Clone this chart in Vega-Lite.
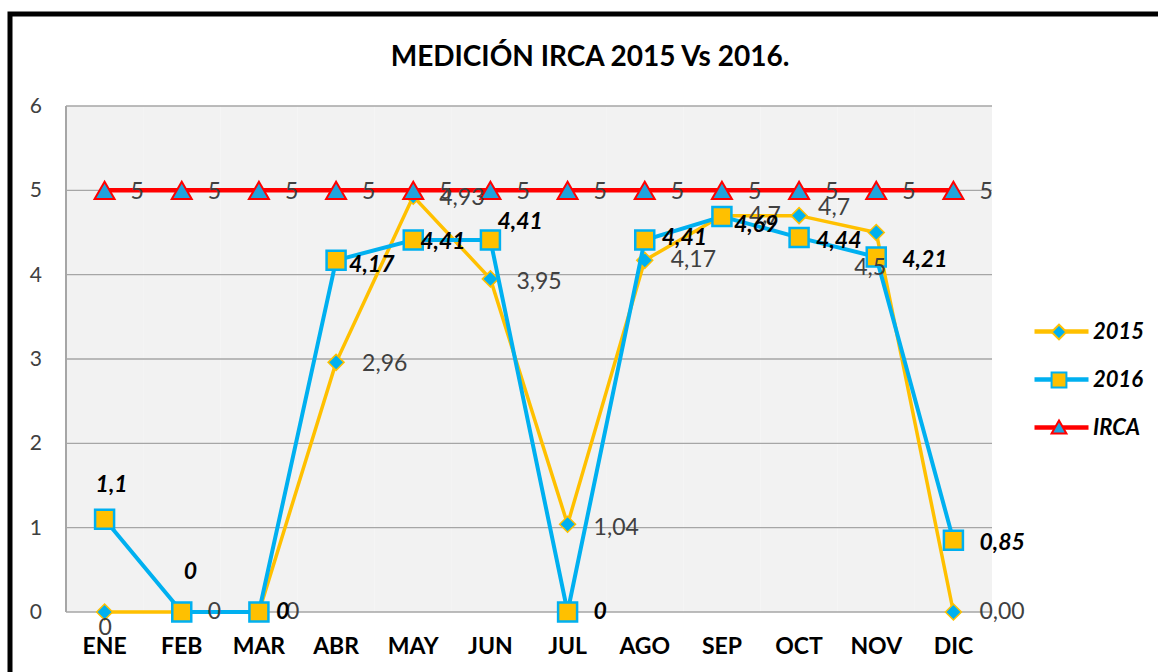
{
  "$schema": "https://vega.github.io/schema/vega-lite/v6.json",
  "width": 1160,
  "height": 672,
  "autosize": {"type": "none"},
  "padding": {"left": 10, "top": 14, "right": -12, "bottom": -14},
  "background": "white",
  "config": {
    "view": {"stroke": "black", "strokeWidth": 5, "fill": "white"},
    "font": "Lato",
    "locale": {"number": {"decimal": ",", "thousands": ".", "grouping": [3], "currency": ["$", ""]}}
  },
  "title": {"text": "MEDICIÓN IRCA 2015 Vs 2016.", "fontSize": 28, "font": "Lato", "fontWeight": "bold", "color": "black", "anchor": "middle", "baseline": "alphabetic", "offset": -80},
  "data": {"values": [
    {"mes": "ENE", "serie": "2015", "valor": 0},
    {"mes": "FEB", "serie": "2015", "valor": 0},
    {"mes": "MAR", "serie": "2015", "valor": 0},
    {"mes": "ABR", "serie": "2015", "valor": 2.96},
    {"mes": "MAY", "serie": "2015", "valor": 4.93},
    {"mes": "JUN", "serie": "2015", "valor": 3.95},
    {"mes": "JUL", "serie": "2015", "valor": 1.04},
    {"mes": "AGO", "serie": "2015", "valor": 4.17},
    {"mes": "SEP", "serie": "2015", "valor": 4.7},
    {"mes": "OCT", "serie": "2015", "valor": 4.7},
    {"mes": "NOV", "serie": "2015", "valor": 4.5},
    {"mes": "DIC", "serie": "2015", "valor": 0},
    {"mes": "ENE", "serie": "2016", "valor": 1.1},
    {"mes": "FEB", "serie": "2016", "valor": 0},
    {"mes": "MAR", "serie": "2016", "valor": 0},
    {"mes": "ABR", "serie": "2016", "valor": 4.17},
    {"mes": "MAY", "serie": "2016", "valor": 4.41},
    {"mes": "JUN", "serie": "2016", "valor": 4.41},
    {"mes": "JUL", "serie": "2016", "valor": 0},
    {"mes": "AGO", "serie": "2016", "valor": 4.41},
    {"mes": "SEP", "serie": "2016", "valor": 4.69},
    {"mes": "OCT", "serie": "2016", "valor": 4.44},
    {"mes": "NOV", "serie": "2016", "valor": 4.21},
    {"mes": "DIC", "serie": "2016", "valor": 0.85},
    {"mes": "ENE", "serie": "IRCA", "valor": 5},
    {"mes": "FEB", "serie": "IRCA", "valor": 5},
    {"mes": "MAR", "serie": "IRCA", "valor": 5},
    {"mes": "ABR", "serie": "IRCA", "valor": 5},
    {"mes": "MAY", "serie": "IRCA", "valor": 5},
    {"mes": "JUN", "serie": "IRCA", "valor": 5},
    {"mes": "JUL", "serie": "IRCA", "valor": 5},
    {"mes": "AGO", "serie": "IRCA", "valor": 5},
    {"mes": "SEP", "serie": "IRCA", "valor": 5},
    {"mes": "OCT", "serie": "IRCA", "valor": 5},
    {"mes": "NOV", "serie": "IRCA", "valor": 5},
    {"mes": "DIC", "serie": "IRCA", "valor": 5}
  ]},
  "layer": [
    {
      "transform": [{"filter": "datum.serie === 'IRCA'"}],
      "mark": {"type": "rect", "fill": "#F2F2F2"},
      "encoding": {
        "x": {"field": "mes", "type": "nominal",
          "scale": {"type": "band", "domain": ["ENE","FEB","MAR","ABR","MAY","JUN","JUL","AGO","SEP","OCT","NOV","DIC"], "range": [56, 982], "paddingInner": 0, "paddingOuter": 0},
          "axis": null},
        "y": {"datum": 0, "type": "quantitative", "scale": {"domain": [0, 6], "range": [598, 92], "nice": false, "zero": false}, "axis": null},
        "y2": {"datum": 6}
      }
    },
    {
      "data": {"values": [{"t": 0}, {"t": 1}, {"t": 2}, {"t": 3}, {"t": 4}, {"t": 5}, {"t": 6}]},
      "mark": {"type": "rule", "color": "#A6A6A6", "strokeWidth": 1.3},
      "encoding": {
        "y": {"field": "t", "type": "quantitative", "axis": null},
        "x": {"datum": "ENE", "bandPosition": 0, "axis": null},
        "x2": {"datum": "DIC", "bandPosition": 1}
      }
    },
    {
      "data": {"values": [{"t": 0}, {"t": 1}, {"t": 2}, {"t": 3}, {"t": 4}, {"t": 5}, {"t": 6}]},
      "mark": {"type": "text", "align": "right", "baseline": "middle", "font": "Lato", "fontSize": 21, "color": "#404040", "dx": -24, "dy": 1},
      "encoding": {
        "y": {"field": "t", "type": "quantitative", "axis": null},
        "x": {"datum": "ENE", "bandPosition": 0, "axis": null},
        "text": {"field": "t", "type": "quantitative", "format": "d"}
      }
    },
    {
      "mark": {"type": "rule", "color": "#A6A6A6", "strokeWidth": 1.3},
      "encoding": {
        "x": {"datum": "ENE", "bandPosition": 0, "axis": null},
        "y": {"datum": 0, "type": "quantitative", "axis": null},
        "y2": {"datum": 6}
      }
    },
    {
      "transform": [{"filter": "datum.serie === 'IRCA'"}],
      "mark": {"type": "text", "align": "center", "baseline": "middle", "font": "Lato", "fontSize": 23, "fontWeight": "bold", "color": "black", "dy": 35},
      "encoding": {
        "x": {"field": "mes", "type": "nominal", "axis": null},
        "y": {"datum": 0, "type": "quantitative", "axis": null},
        "text": {"field": "mes", "type": "nominal"}
      }
    },
    {
      "transform": [{"filter": "datum.serie === '2015'"}],
      "mark": {"type": "line", "strokeWidth": 3.5},
      "encoding": {
        "x": {"field": "mes", "type": "nominal", "axis": null},
        "y": {"field": "valor", "type": "quantitative", "axis": null},
        "color": {"field": "serie", "type": "nominal", "scale": {"range": ["#FFC000", "#00B0F0", "#FF0000"]},
          "legend": {"orient": "none", "legendX": 1022, "legendY": 288, "title": null, "symbolType": "stroke", "symbolSize": 2916, "symbolStrokeWidth": 4.5, "labelFont": "Lato", "labelFontSize": 22, "labelFontWeight": "bold", "labelFontStyle": "italic", "labelColor": "black", "labelOffset": 2, "rowPadding": 7, "padding": 0}}
      }
    },
    {
      "transform": [{"filter": "datum.serie === '2015'"}],
      "mark": {"type": "point", "filled": true, "opacity": 1, "size": 256, "strokeWidth": 1.5},
      "encoding": {
        "x": {"field": "mes", "type": "nominal", "axis": null},
        "y": {"field": "valor", "type": "quantitative", "axis": null},
        "shape": {"field": "serie", "type": "nominal", "scale": {"domain": ["2015", "2016", "IRCA"], "range": ["diamond", "square", "triangle-up"]},
          "legend": {"orient": "none", "legendX": 1038, "legendY": 307, "title": null, "symbolSize": 220, "symbolStrokeWidth": 2, "labelFont": "Lato", "labelFontSize": 22, "labelFontWeight": "bold", "labelFontStyle": "italic", "labelColor": "transparent", "labelExpr": "''", "rowPadding": 24, "padding": 0}},
        "fill": {"field": "serie", "type": "nominal", "scale": {"domain": ["2015", "2016", "IRCA"], "range": ["#00B0F0", "#FFC000", "#1FA3DC"]},
          "legend": {"orient": "none", "legendX": 1038, "legendY": 307, "title": null, "symbolSize": 220, "symbolStrokeWidth": 2, "labelFont": "Lato", "labelFontSize": 22, "labelFontWeight": "bold", "labelFontStyle": "italic", "labelColor": "transparent", "labelExpr": "''", "rowPadding": 24, "padding": 0}},
        "stroke": {"field": "serie", "type": "nominal", "scale": {"domain": ["2015", "2016", "IRCA"], "range": ["#FFC000", "#00B0F0", "#FF0000"]},
          "legend": {"orient": "none", "legendX": 1038, "legendY": 307, "title": null, "symbolSize": 220, "symbolStrokeWidth": 2, "labelFont": "Lato", "labelFontSize": 22, "labelFontWeight": "bold", "labelFontStyle": "italic", "labelColor": "transparent", "labelExpr": "''", "rowPadding": 24, "padding": 0}}
      }
    },
    {
      "transform": [{"filter": "datum.serie === '2016'"}],
      "mark": {"type": "line", "strokeWidth": 4},
      "encoding": {
        "x": {"field": "mes", "type": "nominal", "axis": null},
        "y": {"field": "valor", "type": "quantitative", "axis": null},
        "color": {"field": "serie", "type": "nominal"}
      }
    },
    {
      "transform": [{"filter": "datum.serie === '2016'"}],
      "mark": {"type": "point", "filled": true, "opacity": 1, "size": 361, "strokeWidth": 2.5},
      "encoding": {
        "x": {"field": "mes", "type": "nominal", "axis": null},
        "y": {"field": "valor", "type": "quantitative", "axis": null},
        "shape": {"field": "serie", "type": "nominal"},
        "fill": {"field": "serie", "type": "nominal"},
        "stroke": {"field": "serie", "type": "nominal"}
      }
    },
    {
      "transform": [{"filter": "datum.serie === 'IRCA'"}],
      "mark": {"type": "line", "strokeWidth": 4.5},
      "encoding": {
        "x": {"field": "mes", "type": "nominal", "axis": null},
        "y": {"field": "valor", "type": "quantitative", "axis": null},
        "color": {"field": "serie", "type": "nominal"}
      }
    },
    {
      "transform": [{"filter": "datum.serie === 'IRCA'"}],
      "mark": {"type": "point", "filled": true, "opacity": 1, "size": 400, "strokeWidth": 2},
      "encoding": {
        "x": {"field": "mes", "type": "nominal", "axis": null},
        "y": {"field": "valor", "type": "quantitative", "axis": null},
        "shape": {"field": "serie", "type": "nominal"},
        "fill": {"field": "serie", "type": "nominal"},
        "stroke": {"field": "serie", "type": "nominal"}
      }
    },
    {
      "transform": [{"filter": "datum.serie === '2015'"}],
      "mark": {"type": "text", "align": "left", "baseline": "middle", "font": "Lato", "fontSize": 23, "color": "#404040",
        "dx": {"expr": "({'ENE': -6, 'FEB': 26, 'MAR': 27, 'ABR': 26, 'MAY': 26, 'JUN': 26, 'JUL': 26, 'AGO': 26, 'SEP': 27, 'OCT': 19, 'NOV': -22, 'DIC': 26})[datum.mes]"},
        "dy": {"expr": "({'ENE': 16, 'FEB': 0, 'MAR': 0, 'ABR': 2, 'MAY': 2, 'JUN': 3, 'JUL': 4, 'AGO': 0, 'SEP': 0, 'OCT': -8, 'NOV': 35, 'DIC': 0})[datum.mes]"}},
      "encoding": {
        "x": {"field": "mes", "type": "nominal", "axis": null},
        "y": {"field": "valor", "type": "quantitative", "axis": null},
        "text": {"condition": {"test": "datum.mes === 'DIC'", "field": "valor", "type": "quantitative", "format": ".2f"}, "field": "valor", "type": "quantitative", "format": ".3~r"}
      }
    },
    {
      "transform": [{"filter": "datum.serie === '2016'"}],
      "mark": {"type": "text", "align": "left", "baseline": "middle", "font": "Lato", "fontSize": 23, "fontWeight": "bold", "fontStyle": "italic", "color": "black",
        "dx": {"expr": "({'ENE': -9, 'FEB': 2, 'MAR': 17, 'ABR': 13, 'MAY': 7, 'JUN': 7, 'JUL': 26, 'AGO': 17, 'SEP': 12, 'OCT': 17, 'NOV': 26, 'DIC': 26})[datum.mes]"},
        "dy": {"expr": "({'ENE': -34, 'FEB': -40, 'MAR': 0, 'ABR': 5, 'MAY': 2, 'JUN': -18, 'JUL': 0, 'AGO': -2, 'SEP': 9, 'OCT': 3, 'NOV': 3, 'DIC': 3})[datum.mes]"}},
      "encoding": {
        "x": {"field": "mes", "type": "nominal", "axis": null},
        "y": {"field": "valor", "type": "quantitative", "axis": null},
        "text": {"field": "valor", "type": "quantitative", "format": ".3~r"}
      }
    },
    {
      "transform": [{"filter": "datum.serie === 'IRCA'"}],
      "mark": {"type": "text", "align": "left", "baseline": "middle", "font": "Lato", "fontSize": 23, "color": "#404040", "dx": 26, "dy": 2},
      "encoding": {
        "x": {"field": "mes", "type": "nominal", "axis": null},
        "y": {"field": "valor", "type": "quantitative", "axis": null},
        "text": {"field": "valor", "type": "quantitative", "format": ".3~r"}
      }
    }
  ]
}
